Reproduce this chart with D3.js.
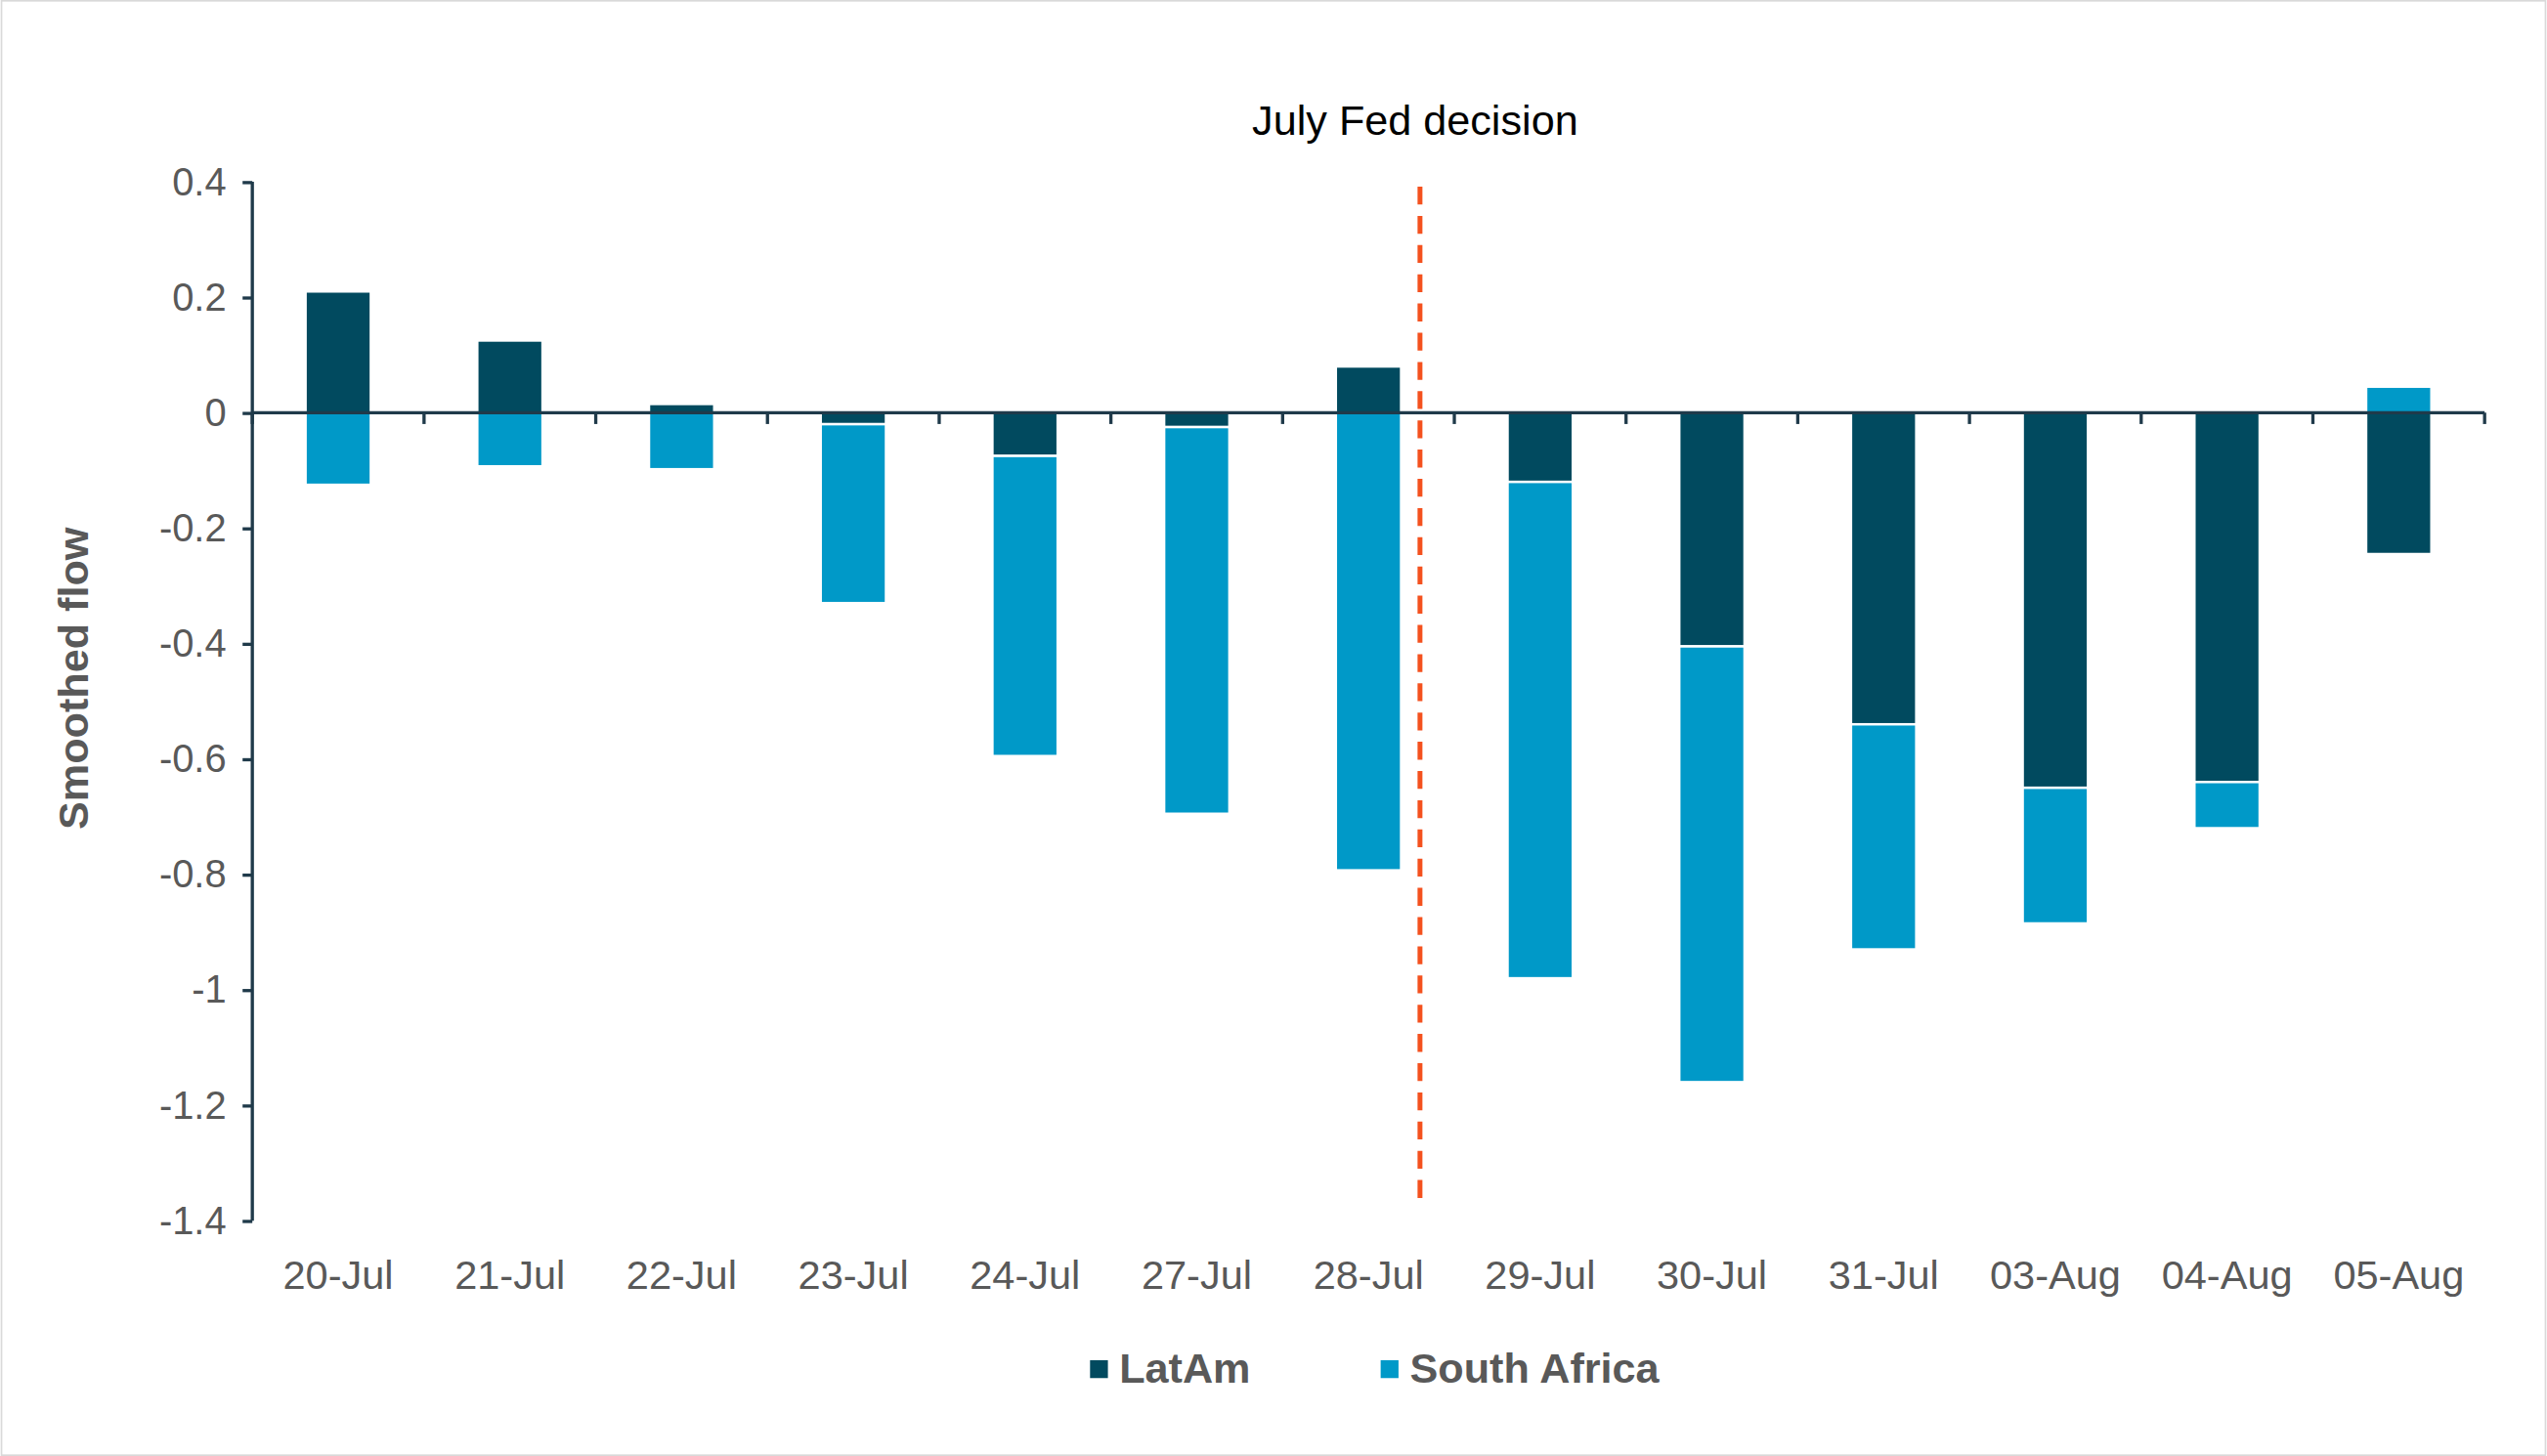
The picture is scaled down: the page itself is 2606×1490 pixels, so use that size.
<!DOCTYPE html>
<html><head><meta charset="utf-8">
<script src="https://cdn.jsdelivr.net/npm/d3@7"></script>
<style>body{margin:0;background:#fff}svg{display:block;font-family:"Liberation Sans",Arial,sans-serif}</style>
</head><body>
<svg id="chart" width="2606" height="1490" viewBox="0 0 1568 897"></svg>
<script>
// data
var categories = ['20-Jul','21-Jul','22-Jul','23-Jul','24-Jul','27-Jul','28-Jul','29-Jul','30-Jul','31-Jul','03-Aug','04-Aug','05-Aug'];
var latam = [0.21, 0.125, 0.015, -0.02, -0.075, -0.025, 0.08, -0.12, -0.405, -0.54, -0.65, -0.64, -0.245];
var southAfrica = [-0.125, -0.093, -0.098, -0.31, -0.52, -0.67, -0.793, -0.86, -0.755, -0.39, -0.235, -0.08, 0.045];
var yTicks = [0.4, 0.2, 0, -0.2, -0.4, -0.6, -0.8, -1, -1.2, -1.4];
var seriesNames = ['LatAm', 'South Africa'];
var colors = ['#014a5f', '#0099c8'];

var svg = d3.select('#chart');
svg.append('rect').attr('x',0.5).attr('y',0.5).attr('width',1567).attr('height',896)
    .attr('fill','#fff').attr('stroke','#d9d9d9');

var plotLeft = 155, plotRight = 1530, plotTop = 112, plotBottom = 752;
var x = d3.scaleBand().domain(categories).range([plotLeft, plotRight]).paddingInner(0.62).paddingOuter(0.31);
var xb = d3.scaleBand().domain(categories).range([plotLeft, plotRight]);
var y = d3.scaleLinear().domain([-1.4, 0.4]).range([plotBottom, plotTop]);

// stack with pos/neg separated
var series = [latam, southAfrica];
var rects = [];
categories.forEach(function (c, i) {
    var pos = 0, neg = 0;
    series.forEach(function (s, k) {
        var v = s[i], y0, y1;
        if (v >= 0) { y0 = pos; y1 = pos + v; pos = y1; }
        else { y0 = neg; y1 = neg + v; neg = y1; }
        rects.push({ c: c, k: k, y0: y0, y1: y1 });
    });
});
svg.append('g').selectAll('rect').data(rects).enter().append('rect')
    .attr('x', d => x(d.c)).attr('width', x.bandwidth())
    .attr('y', d => y(Math.max(d.y0, d.y1)))
    .attr('height', d => Math.abs(y(d.y0) - y(d.y1)))
    .attr('fill', d => colors[d.k]).attr('stroke', '#fff').attr('stroke-width', 1.5);

// y axis
var yAxis = svg.append('g').attr('transform', 'translate(' + plotLeft + ',0)')
    .call(d3.axisLeft(y).tickValues(yTicks).tickSize(6).tickPadding(10).tickFormat(d => String(+d.toFixed(1))));
yAxis.selectAll('text').attr('font-size', 24).attr('fill', '#595959');
yAxis.selectAll('line,path').attr('stroke', '#1f3a4a').attr('stroke-width', 2);
yAxis.select('path').attr('d', 'M0,' + plotTop + 'V' + plotBottom);

// x axis at zero
var xg = svg.append('g').attr('transform', 'translate(0,' + y(0) + ')');
xg.append('line').attr('x1', plotLeft).attr('x2', plotRight).attr('stroke', '#1f3a4a').attr('stroke-width', 2);
xg.selectAll('line.t').data(categories.concat(['end'])).enter().append('line')
    .attr('x1', (d, i) => plotLeft + i * xb.bandwidth()).attr('x2', (d, i) => plotLeft + i * xb.bandwidth())
    .attr('y1', 0).attr('y2', 7).attr('stroke', '#1f3a4a').attr('stroke-width', 2);
svg.append('g').selectAll('text').data(categories).enter().append('text')
    .attr('x', d => xb(d) + xb.bandwidth() / 2).attr('y', 794).attr('text-anchor', 'middle')
    .attr('font-size', 25).attr('fill', '#595959').text(d => d);

// Fed decision line
var fedX = xb('28-Jul') + xb.bandwidth() * 0.8;
svg.append('line').attr('x1', fedX).attr('x2', fedX).attr('y1', 115).attr('y2', 742)
    .attr('stroke', '#f4511e').attr('stroke-width', 3).attr('stroke-dasharray', '11,7');
svg.append('text').attr('x', fedX - 3).attr('y', 83).attr('text-anchor', 'middle')
    .attr('font-size', 26).attr('fill', '#000').text('July Fed decision');

// y title
svg.append('text').attr('transform', 'translate(54,418) rotate(-90)').attr('text-anchor', 'middle')
    .attr('font-size', 26).attr('font-weight', 'bold').attr('fill', '#595959').text('Smoothed flow');

// legend
var lg = [{ x: 671 }, { x: 850 }];
seriesNames.forEach(function (n, i) {
    svg.append('rect').attr('x', lg[i].x).attr('y', 838).attr('width', 11).attr('height', 11).attr('fill', colors[i]);
    svg.append('text').attr('x', lg[i].x + 18).attr('y', 852).attr('font-size', 26).attr('font-weight', 'bold')
        .attr('fill', '#595959').text(n);
});
</script>
</body></html>
